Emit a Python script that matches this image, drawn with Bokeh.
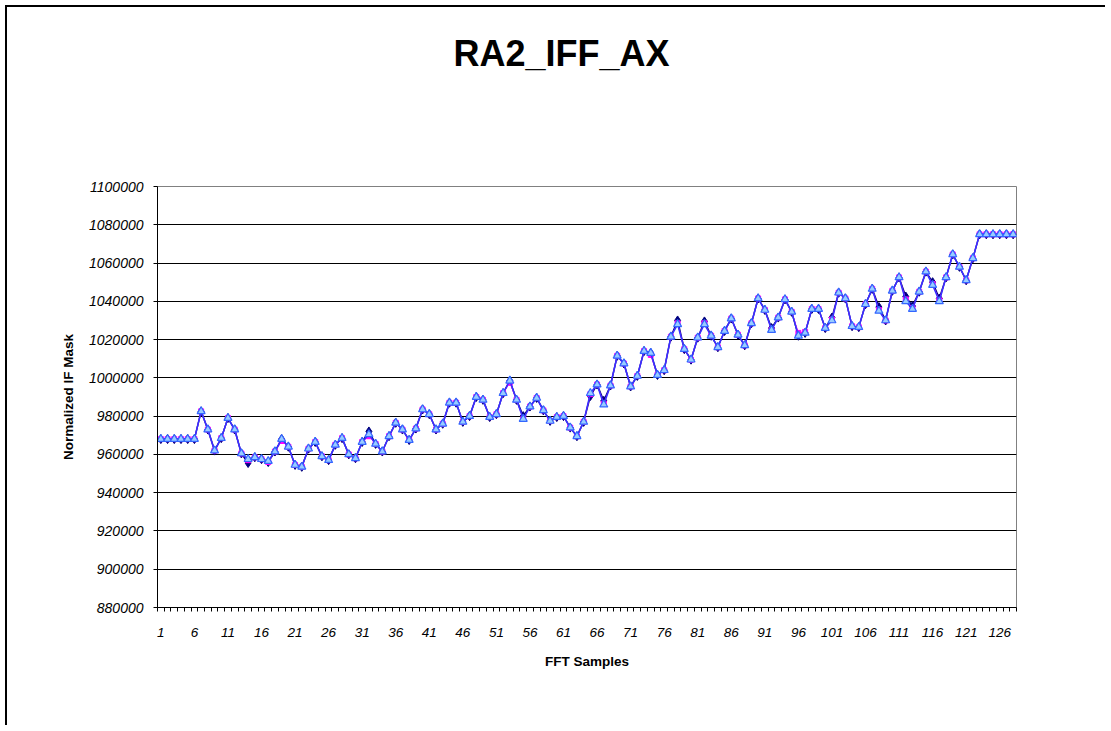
from bokeh.plotting import figure
from bokeh.models import FixedTicker, NumeralTickFormatter, Range1d, Title
from bokeh.embed import file_html
from bokeh.resources import INLINE

# ---- data ----
samples = list(range(1, 129))

series_navy = [
    968000, 968000, 968000, 968000, 968000, 968000, 982500, 973000, 962000, 968500,
    979000, 973000, 960500, 955500, 958500, 957500, 956000, 961500, 968000, 964000,
    954500, 953500, 963000, 966500, 959000, 957000, 965000, 968500, 960000, 958000,
    966500, 972000, 965500, 961500, 969500, 976500, 973000, 967500, 973500, 983500,
    981000, 973000, 976000, 987000, 987000, 977000, 980000, 990000, 988500, 979500,
    981000, 992000, 998500, 988500, 980000, 985000, 989500, 983000, 977500, 979500,
    980000, 974000, 969500, 977000, 990500, 996500, 988000, 996000, 1011500, 1007500,
    995500, 1001000, 1014000, 1013000, 1001500, 1004000, 1021500, 1030000, 1015000, 1009500,
    1021000, 1029500, 1022000, 1016000, 1024500, 1031000, 1022500, 1017000, 1028500, 1041500,
    1035500, 1026000, 1031500, 1041000, 1034500, 1022000, 1023500, 1036000, 1036000, 1026000,
    1031500, 1044500, 1041500, 1027000, 1026500, 1038500, 1046500, 1037000, 1030000, 1045500,
    1052500, 1042500, 1037500, 1045000, 1055500, 1050000, 1041500, 1052500, 1064500, 1058000,
    1051000, 1062500, 1075000, 1075000, 1075000, 1075000, 1075000, 1075000,
]

series_magenta = [
    968000, 968000, 968000, 968000, 968000, 968000, 982500, 973000, 962000, 968500,
    979000, 973000, 960500, 957000, 958500, 957500, 956000, 961500, 967000, 964000,
    954500, 953500, 963000, 966500, 959000, 957000, 965000, 968500, 960000, 958000,
    966500, 969500, 965500, 961500, 969500, 976500, 973000, 967500, 973500, 983500,
    981000, 973000, 976000, 987000, 987000, 977000, 980000, 990000, 988500, 979500,
    981000, 992000, 997500, 988500, 978500, 985000, 989500, 983000, 977500, 979500,
    980000, 974000, 969500, 977000, 991500, 996500, 986500, 996000, 1011500, 1007500,
    995500, 1001000, 1014000, 1012000, 1001500, 1004000, 1021500, 1028500, 1015000, 1009500,
    1021000, 1028500, 1022000, 1016000, 1024500, 1031000, 1022500, 1017000, 1028500, 1041500,
    1035500, 1025000, 1031500, 1041000, 1034500, 1023500, 1024000, 1036000, 1036000, 1026000,
    1030500, 1044500, 1041500, 1027000, 1026500, 1038500, 1046500, 1035500, 1030000, 1045500,
    1052500, 1041000, 1036500, 1045000, 1055500, 1049000, 1040500, 1052500, 1064500, 1058000,
    1051000, 1062500, 1075000, 1075000, 1075000, 1075000, 1075000, 1075000,
]

series_blue = [
    968000, 968000, 968000, 968000, 968000, 968000, 982500, 973000, 962000, 968500,
    979000, 973000, 960500, 957500, 958500, 957500, 956500, 961500, 968000, 964000,
    954500, 953500, 963000, 966500, 959000, 957000, 965000, 968500, 960000, 958000,
    966500, 970500, 965500, 961500, 969500, 976500, 973000, 967500, 973500, 983500,
    981000, 973000, 976000, 987000, 987000, 977000, 980000, 990000, 988500, 979500,
    981000, 992000, 998500, 988500, 978500, 985000, 989500, 983000, 977500, 979500,
    980000, 974000, 969500, 977000, 992000, 996500, 986000, 996000, 1011500, 1007500,
    995500, 1001000, 1014000, 1013000, 1001500, 1004000, 1021500, 1028000, 1015000, 1009500,
    1021000, 1028000, 1022000, 1016000, 1024500, 1031000, 1022500, 1017000, 1028500, 1041500,
    1035500, 1025000, 1031500, 1041000, 1034500, 1022000, 1023500, 1036000, 1036000, 1026000,
    1030000, 1044500, 1041500, 1027000, 1026500, 1038500, 1046500, 1035000, 1030000, 1045500,
    1052500, 1040000, 1036000, 1045000, 1055500, 1048500, 1040000, 1052500, 1064500, 1058000,
    1051000, 1062500, 1075000, 1075000, 1075000, 1075000, 1075000, 1075000,
]

x_tick_values = list(range(1, 129, 5))
y_tick_values = list(range(880000, 1100001, 20000))

TITLE = "RA2_IFF_AX"
X_LABEL = "FFT Samples"
Y_LABEL = "Normalized IF Mask"

FONT = "Liberation Sans"

p = figure(
    width=1100, height=720,
    output_backend="svg", toolbar_location=None, tools="",
    x_range=Range1d(0.5, 128.5), y_range=Range1d(880000, 1100000),
    min_border_left=150, min_border_right=91, min_border_top=179, min_border_bottom=120,
)
p.styles = {"border-left": "2px solid #000000", "border-top": "2px solid #000000",
            "margin-left": "5px", "margin-top": "5px"}

# empty spacer between the plot area and the chart title
p.add_layout(Title(text=" ", text_font_size="12px", standoff=92), "above")

p.title.text = TITLE
p.title.align = "left"
p.title.offset = 296
p.title.vertical_align = "bottom"
p.title.standoff = 10
p.title.text_font = FONT
p.title.text_font_size = "36px"
p.title.text_font_style = "bold"
p.title.text_color = "black"

p.background_fill_color = "white"
p.border_fill_color = "white"
p.outline_line_color = "#808080"
p.outline_line_width = 1

# axes
p.xaxis.ticker = FixedTicker(ticks=x_tick_values,
                             minor_ticks=[i + 0.5 for i in range(0, 129)])
p.xaxis.major_tick_line_color = None
p.xaxis.minor_tick_out = 4
p.xaxis.minor_tick_in = 0
p.xaxis.minor_tick_line_color = "black"
p.xaxis.axis_line_color = "black"
p.xaxis.major_label_text_font = FONT
p.xaxis.major_label_text_font_size = "13.5px"
p.xaxis.major_label_text_font_style = "italic"
p.xaxis.major_label_text_color = "black"
p.xaxis.major_label_standoff = 14
p.xaxis.axis_label = X_LABEL
p.xaxis.axis_label_text_font = FONT
p.xaxis.axis_label_text_font_size = "13.5px"
p.xaxis.axis_label_text_font_style = "bold"
p.xaxis.axis_label_text_color = "black"
p.xaxis.axis_label_standoff = 14

p.yaxis.ticker = FixedTicker(ticks=y_tick_values)
p.yaxis.formatter = NumeralTickFormatter(format="0")
p.yaxis.major_tick_out = 4
p.yaxis.major_tick_in = 0
p.yaxis.minor_tick_line_color = None
p.yaxis.axis_line_color = "black"
p.yaxis.major_label_text_font = FONT
p.yaxis.major_label_text_font_size = "14px"
p.yaxis.major_label_text_font_style = "italic"
p.yaxis.major_label_text_color = "black"
p.yaxis.major_label_standoff = 10
p.yaxis.axis_label = Y_LABEL
p.yaxis.axis_label_text_font = FONT
p.yaxis.axis_label_text_font_size = "13.5px"
p.yaxis.axis_label_text_font_style = "bold"
p.yaxis.axis_label_text_color = "black"
p.yaxis.axis_label_standoff = 10

p.xgrid.grid_line_color = None
p.ygrid.ticker = FixedTicker(ticks=y_tick_values)
p.ygrid.grid_line_color = "#000000"
p.ygrid.grid_line_width = 1

# series
p.line(samples, series_navy, line_color="#000080", line_width=1.5)
p.scatter(samples, series_navy, marker="diamond", size=9,
          fill_color="#000080", line_color="#000080")
p.line(samples, series_magenta, line_color="#FF00FF", line_width=1)
p.scatter(samples, series_magenta, marker="square", size=5,
          fill_color="#FF00FF", line_color="#FF00FF")
p.line(samples, series_blue, line_color="#3333FF", line_width=1.5)
p.scatter(samples, series_blue, marker="triangle", size=8,
          fill_color="#99CCFF", line_color="#3366FF", line_width=1.2)

open("out.html", "w").write(file_html(p, INLINE))
